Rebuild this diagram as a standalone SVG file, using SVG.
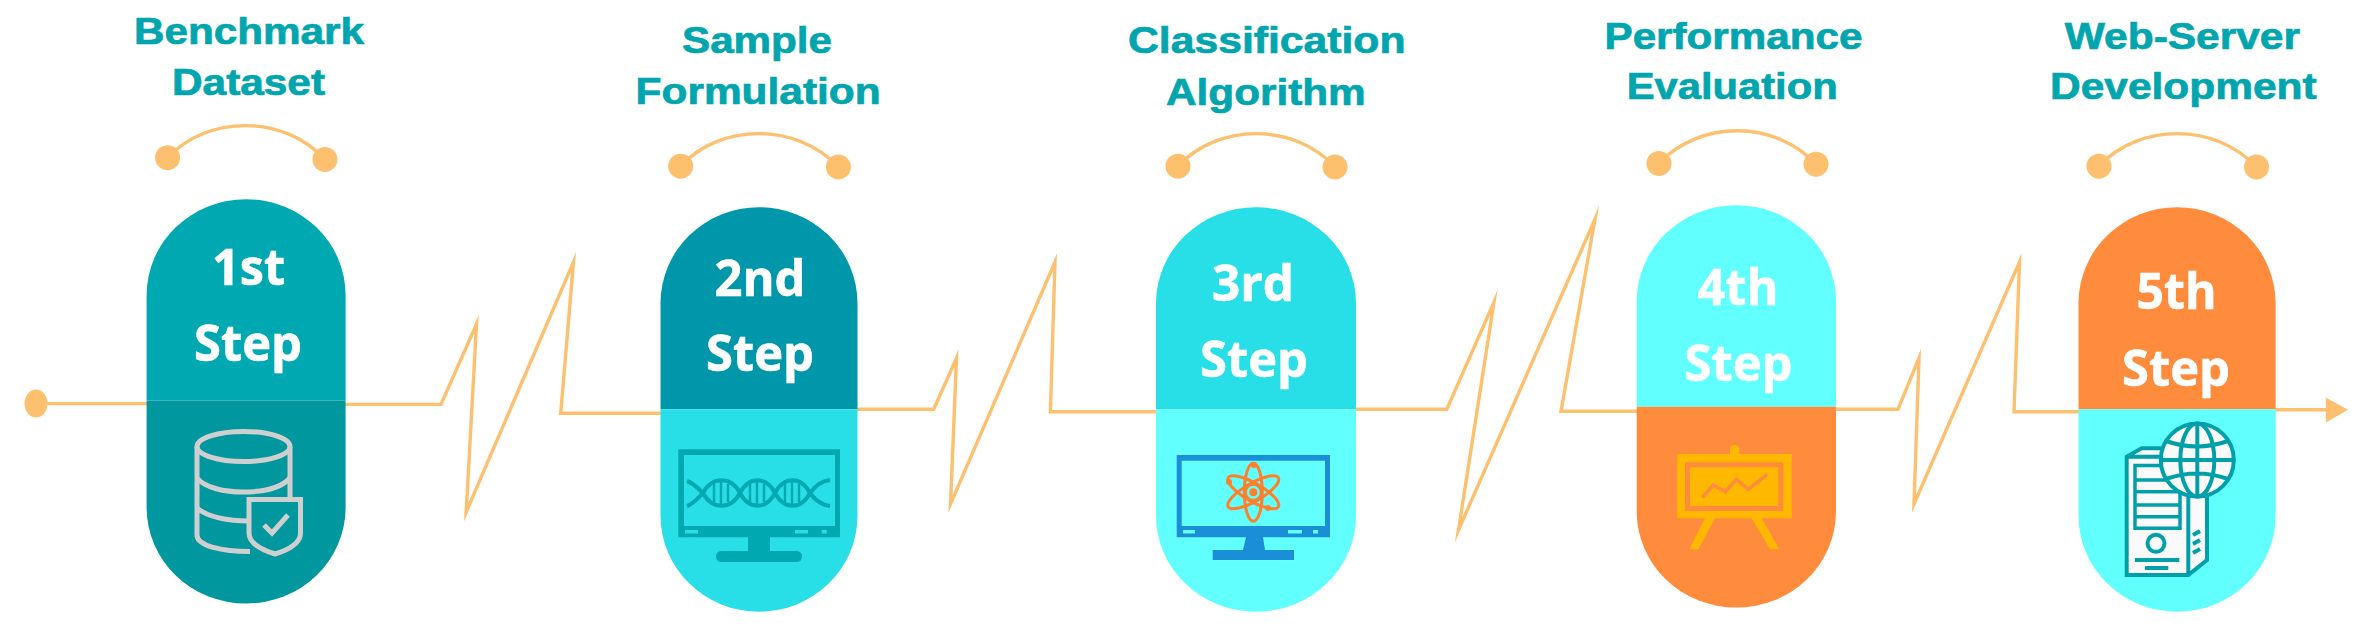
<svg xmlns="http://www.w3.org/2000/svg" width="2372" height="631" viewBox="0 0 2372 631">
<defs>
<style>
.wire{fill:none;stroke:#fdc06f;stroke-width:3.4;stroke-linejoin:miter;stroke-miterlimit:14}
.arc{fill:none;stroke:#fdc06f;stroke-width:3.4}
.dot{fill:#fdc06f}
.title{font-family:"Liberation Sans",Arial,sans-serif;font-weight:700;font-size:36px;fill:#00a5ae;stroke:#00a5ae;stroke-width:.7px}
.step{font-family:"Open Sans","Noto Sans",sans-serif;font-weight:700;font-size:50px;fill:#fff;stroke:#fff;stroke-width:.6px}
</style>
</defs>
<rect width="2372" height="631" fill="#fff"/>
<g id="connectors">
<ellipse class="dot" cx="36" cy="403.600" rx="11.500" ry="14"/>
<polyline class="wire" points="36,403.600 148,403.600"/>
<polyline class="wire" points="345,404.400 441,404.400 476.500,324 466.200,512 573.500,262 560.700,413.300 661,413.300"/>
<polyline class="wire" points="857,409.300 933.700,409.300 956.500,358 950.500,504 1055,262 1050.400,411.700 1157,411.700"/>
<polyline class="wire" points="1355,409.300 1446.800,409.300 1494,302 1458.500,530 1595,219 1561,411.300 1638,411.300"/>
<polyline class="wire" points="1835,409.300 1898,409.300 1919,358 1914,504 2019.500,262 2014,411.700 2079,411.700"/>
<polyline class="wire" points="2275,409.700 2330,409.700"/>
<polygon class="dot" points="2348,409.700 2325.800,397.600 2325.800,422.500"/>
</g>
<g id="step1">
<text class="title" x="134" y="44.300" textLength="230" lengthAdjust="spacingAndGlyphs">Benchmark</text>
<text class="title" x="172" y="95" textLength="153" lengthAdjust="spacingAndGlyphs">Dataset</text>
<path class="arc" d="M167.600 157.700C208 114.600 284 114.600 325 159.400"/>
<circle class="dot" cx="167.600" cy="157.700" r="12.500"/><circle class="dot" cx="325" cy="159.400" r="12.500"/>
<path fill="#00a9b2" d="M146.600 400.400V295.200A99.500 96 0 0 1 345.600 295.200V400.400Z"/>
<path fill="#00979f" d="M146.600 400.400H345.600V507.600A99.500 96 0 0 1 146.600 507.600Z"/>
<text class="step" x="212" y="285" textLength="73" lengthAdjust="spacingAndGlyphs">1st</text>
<text class="step" x="194" y="361" textLength="108" lengthAdjust="spacingAndGlyphs">Step</text>
<g fill="none" stroke="#cfcfcf" stroke-width="5">
<ellipse cx="243.500" cy="446.500" rx="46.500" ry="15"/>
<path d="M197 447V535C197 546 222 551.500 250 551.500"/>
<path d="M290 447V499"/>
<path d="M197 478C205 488 225 492 243 492C265 492 282 487 290 478"/>
<path d="M197 508C207 517 228 521 249 521"/>
<path d="M249 499.500H300.500V533C300.500 543 288 550 275 554C262 550 249 543 249 533Z" fill="#00979f"/>
<path d="M264 525L272 533L288 515"/>
</g>
</g>
<g id="step2">
<text class="title" x="682" y="53" textLength="150" lengthAdjust="spacingAndGlyphs">Sample</text>
<text class="title" x="635.600" y="103.800" textLength="245" lengthAdjust="spacingAndGlyphs">Formulation</text>
<path class="arc" d="M680.700 166.200C721 122.600 797 122.600 838.400 167"/>
<circle class="dot" cx="680.700" cy="166.200" r="12.500"/><circle class="dot" cx="838.400" cy="167" r="12.500"/>
<path fill="#0097ab" d="M660.500 409.300V303.200A98.500 96 0 0 1 857.500 303.200V409.300Z"/>
<path fill="#28dfe8" d="M660.500 409.300H857.500V515.700A98.500 96 0 0 1 660.500 515.700Z"/>
<text class="step" x="714.500" y="295.800" textLength="91" lengthAdjust="spacingAndGlyphs">2nd</text>
<text class="step" x="706" y="371.400" textLength="108" lengthAdjust="spacingAndGlyphs">Step</text>
<path fill="#00a9b2" d="M678.300 449.300H840V537.300H770V551H796Q802 551 802 556.500Q802 562 796 562H722Q716 562 716 556.500Q716 551 722 551H748V537.300H678.300Z"/>
<rect x="684" y="455" width="151" height="71" fill="#28dfe8"/>
<g fill="#28dfe8"><rect x="685" y="530" width="13" height="3.500"/><rect x="795" y="530" width="13" height="3.500"/><rect x="821.700" y="530" width="5" height="3.500"/></g>
<g fill="none" stroke="#00a9b2" stroke-width="4">
<path d="M687 481C693 483 698 488 703 493C712 476 731 476 740 493C749 510 766 510 775 493C784 476 801 476 810 493C815 500 822 505 830 506"/>
<path d="M687 506C693 504 698 498 703 493C712 510 731 510 740 493C749 476 766 476 775 493C784 510 801 510 810 493C815 486 822 481 830 480"/>
</g>
<g stroke="#00a9b2" stroke-width="2.500"><path d="M714 484V502M721 481V505M728 484V502M750 484V502M757 481V505M764 484V502M785 484V502M792 481V505M799 484V502"/></g>
</g>
<g id="step3">
<text class="title" x="1128" y="53" textLength="277.500" lengthAdjust="spacingAndGlyphs">Classification</text>
<text class="title" x="1166" y="105.400" textLength="199.700" lengthAdjust="spacingAndGlyphs">Algorithm</text>
<path class="arc" d="M1178 166.200C1219 122.600 1294 122.600 1335 167"/>
<circle class="dot" cx="1178" cy="166.200" r="12.500"/><circle class="dot" cx="1335" cy="167" r="12.500"/>
<path fill="#28dfe8" d="M1156 409.300V303.200A100 96 0 0 1 1356 303.200V409.300Z"/>
<path fill="#62ffff" d="M1156 409.300H1356V515.700A100 96 0 0 1 1156 515.700Z"/>
<text class="step" x="1212" y="301" textLength="82" lengthAdjust="spacingAndGlyphs">3rd</text>
<text class="step" x="1200" y="377" textLength="108" lengthAdjust="spacingAndGlyphs">Step</text>
<path fill="#1a8fd8" d="M1176.700 455H1330V537.300H1263L1265 550H1294V560H1212.700V550H1243L1246 537.300H1176.700Z"/>
<rect x="1181.700" y="460.700" width="143.300" height="65.300" fill="#62ffff"/>
<g fill="#62ffff"><rect x="1183" y="530" width="12" height="3.500"/><rect x="1288" y="530" width="14" height="3.500"/><rect x="1313" y="530" width="5" height="3.500"/></g>
<g fill="none" stroke="#ff7f2a" stroke-width="3">
<ellipse cx="1253.300" cy="492.300" rx="9" ry="29"/>
<ellipse cx="1253.300" cy="492.300" rx="9" ry="29" transform="rotate(60 1253.300 492.300)"/>
<ellipse cx="1253.300" cy="492.300" rx="9" ry="29" transform="rotate(120 1253.300 492.300)"/>
<circle cx="1253.300" cy="492.300" r="8"/>
</g>
<g fill="#ff7f2a"><circle cx="1253.300" cy="492.300" r="4"/><circle cx="1268" cy="508" r="3"/><circle cx="1229" cy="482" r="3"/><circle cx="1254" cy="465" r="3"/></g>
</g>
<g id="step4">
<text class="title" x="1604.500" y="49" textLength="258" lengthAdjust="spacingAndGlyphs">Performance</text>
<text class="title" x="1626.700" y="99" textLength="211" lengthAdjust="spacingAndGlyphs">Evaluation</text>
<path class="arc" d="M1659 163.400C1700 119.800 1775 119.800 1816 164.200"/>
<circle class="dot" cx="1659" cy="163.400" r="12.500"/><circle class="dot" cx="1816" cy="164.200" r="12.500"/>
<path fill="#62ffff" d="M1636.700 406.800V301.200A99.650 96 0 0 1 1836 301.200V406.800Z"/>
<path fill="#ff8c3c" d="M1636.700 406.800H1836V511.600A99.650 96 0 0 1 1636.700 511.600Z"/>
<text class="step" x="1697.500" y="305" textLength="81" lengthAdjust="spacingAndGlyphs">4th</text>
<text class="step" x="1684.500" y="381" textLength="108" lengthAdjust="spacingAndGlyphs">Step</text>
<path fill="#ffb800" d="M1730 454V449.500Q1730 445 1734.500 445Q1739.300 445 1739.300 449.500V454H1791.700V518.300H1761.700L1779.300 549.300H1770L1751.700 518.300H1715L1698.300 549.300H1689.300L1705 518.300H1677.300V454Z"/>
<path fill="none" stroke="#ff8c3c" stroke-width="5" d="M1687.500 464.800H1780.800V508.500H1687.500Z"/>
<polyline fill="none" stroke="#ff8c3c" stroke-width="3.500" points="1702.300,497.700 1713.300,485 1725,491.700 1736.700,479.300 1748.300,489.300 1767.300,474.300"/>
</g>
<g id="step5">
<text class="title" x="2064.800" y="49" textLength="235.200" lengthAdjust="spacingAndGlyphs">Web-Server</text>
<text class="title" x="2050" y="99" textLength="266.600" lengthAdjust="spacingAndGlyphs">Development</text>
<path class="arc" d="M2099 166.200C2140 122.600 2215 122.600 2256.500 167"/>
<circle class="dot" cx="2099" cy="166.200" r="12.500"/><circle class="dot" cx="2256.500" cy="167" r="12.500"/>
<path fill="#ff8c3c" d="M2078.500 409.300V303.200A98.550 96 0 0 1 2275.600 303.200V409.300Z"/>
<path fill="#62ffff" d="M2078.500 409.300H2275.600V515.700A98.550 96 0 0 1 2078.500 515.700Z"/>
<text class="step" x="2136.500" y="308.700" textLength="80" lengthAdjust="spacingAndGlyphs">5th</text>
<text class="step" x="2122" y="385.500" textLength="108" lengthAdjust="spacingAndGlyphs">Step</text>
<g stroke="#00a0ab" fill="#fafafa" stroke-width="4">
<path d="M2126.700 456.700L2141.700 448.300H2170V480H2207V560L2188.300 575H2126.700Z"/>
<path fill="none" d="M2126.700 456.700H2165M2188.300 480V575"/>
<path stroke-width="3.500" d="M2135 465.500H2180V528.300H2135ZM2135 480H2180M2135 491.700H2180M2135 505H2180M2135 516.700H2180"/>
<circle cx="2156" cy="543.300" r="8.500" fill="none" stroke-width="4"/>
<path fill="none" d="M2135 560H2179.300"/>
<path fill="none" d="M2145 568H2168.300"/>
<path fill="none" d="M2193 535L2200 531M2193 544L2200 540M2193 553L2200 549"/>
<circle cx="2197.300" cy="460" r="36.500"/>
<ellipse cx="2197.300" cy="460" rx="17" ry="36.500" fill="none"/>
<path fill="none" d="M2197.300 423.500V496.500M2160.800 460H2233.800M2166 441Q2197 452 2228 441M2166 479Q2197 468 2228 479"/>
</g>
</g>
</svg>
